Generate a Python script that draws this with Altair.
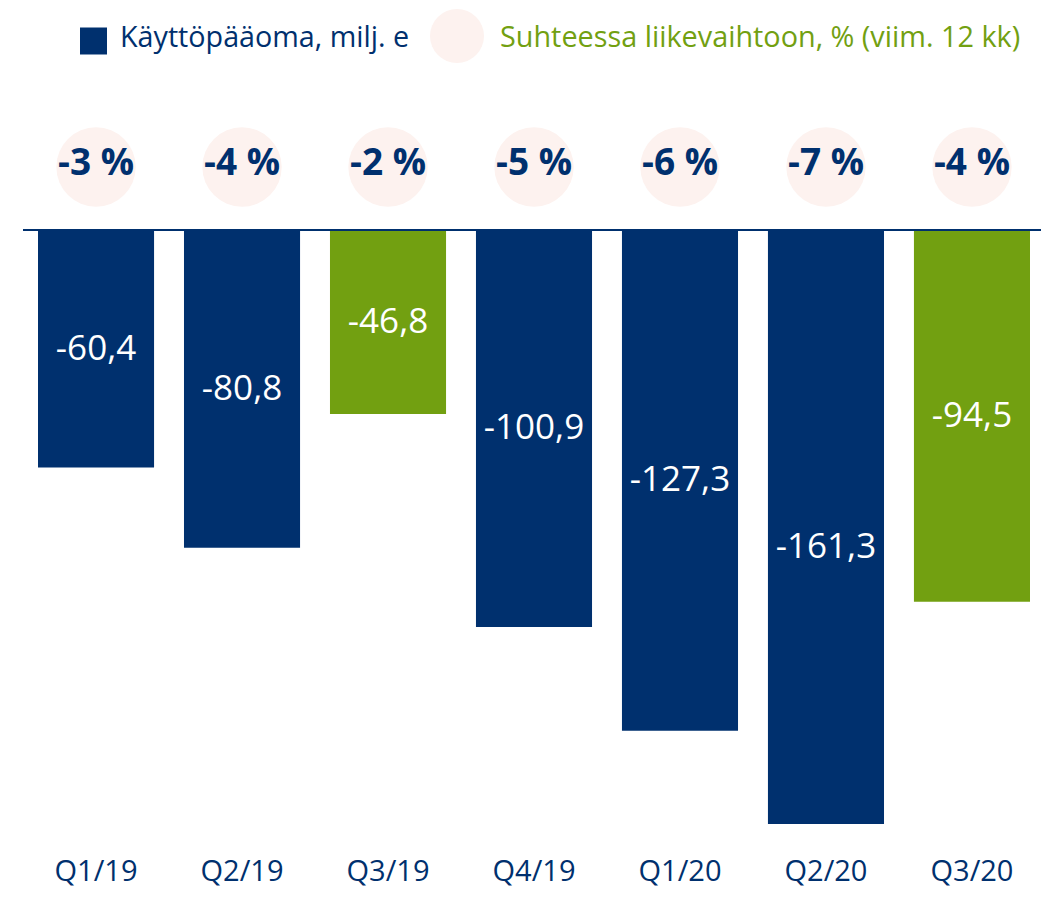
import altair as alt
import pandas as pd

quarters = ["Q1/19", "Q2/19", "Q3/19", "Q4/19", "Q1/20", "Q2/20", "Q3/20"]
values = [-60.4, -80.8, -46.8, -100.9, -127.3, -161.3, -94.5]
pcts = [-3, -4, -2, -5, -6, -7, -4]
legend_items = ["Käyttöpääoma, milj. e", "Suhteessa liikevaihtoon, % (viim. 12 kk)"]

NAVY = "#00306E"
GREEN = "#72A011"
PINK = "#FDF2EF"
FONT = "Open Sans"

df = pd.DataFrame({
    "q": quarters,
    "v": values,
    "lbl": [f"{v:.1f}".replace(".", ",") for v in values],
    "pct": [f"{p} %" for p in pcts],
})

x = alt.X("q:N", sort=quarters, title=None,
          scale=alt.Scale(paddingInner=0.205, paddingOuter=0),
          axis=alt.Axis(domain=False, ticks=False, labelAngle=0, labelFont=FONT,
                        labelFontSize=29, labelColor=NAVY, labelPadding=33))
yscale = alt.Scale(domain=[-151, 0], nice=False, zero=False)

base = alt.Chart(df)

bars = base.mark_bar(clip=True).encode(
    x=x,
    y=alt.Y("v:Q", scale=yscale, axis=None, title=None),
    color=alt.condition("indexof(datum.q, 'Q3') == 0", alt.value(GREEN), alt.value(NAVY)),
)

bar_lbl = base.transform_calculate(mid="datum.v / 2").mark_text(
    font=FONT, fontSize=35, color="white", baseline="middle"
).encode(x=x, y=alt.Y("mid:Q", scale=yscale), text="lbl:N")

zero = alt.Chart(pd.DataFrame({"z": [0]})).mark_rule(color=NAVY, strokeWidth=2).encode(
    y=alt.Y("z:Q", scale=yscale), x=alt.value(-15), x2=alt.value(1010)
)

circles = base.mark_circle(color=PINK, opacity=1, size=6300).encode(
    x=x, y=alt.value(-63)
)
pct_txt = base.mark_text(font=FONT, fontSize=37, fontWeight="bold", color=NAVY,
                         baseline="middle").encode(
    x=x, y=alt.value(-66), text="pct:N"
)

leg_df = pd.DataFrame({"t": legend_items})
leg_sq = alt.Chart(leg_df).transform_filter("datum.t == '%s'" % legend_items[0]).mark_square(
    color=NAVY, opacity=1, size=729
).encode(x=alt.value(55.5), y=alt.value(-189))
leg_t1 = alt.Chart(leg_df).transform_filter("datum.t == '%s'" % legend_items[0]).mark_text(
    font=FONT, fontSize=28.7, color=NAVY, align="left", baseline="middle"
).encode(x=alt.value(82), y=alt.value(-192), text="t:N")
leg_ci = alt.Chart(leg_df).transform_filter("datum.t == '%s'" % legend_items[1]).mark_circle(
    color=PINK, opacity=1, size=2920
).encode(x=alt.value(419), y=alt.value(-194))
leg_t2 = alt.Chart(leg_df).transform_filter("datum.t == '%s'" % legend_items[1]).mark_text(
    font=FONT, fontSize=28.8, color=GREEN, align="left", baseline="middle"
).encode(x=alt.value(462), y=alt.value(-192), text="t:N")

chart = alt.layer(
    bars, bar_lbl, zero, circles, pct_txt, leg_sq, leg_t1, leg_ci, leg_t2
).properties(
    width=992, height=594,
    autosize=alt.AutoSizeParams(type="none"),
    padding={"left": 30, "top": 222, "right": 11, "bottom": 65},
).configure(background="white").configure_view(strokeWidth=0, stroke="transparent")

chart.save("out.html", embed_options={"renderer": "svg", "actions": False})
